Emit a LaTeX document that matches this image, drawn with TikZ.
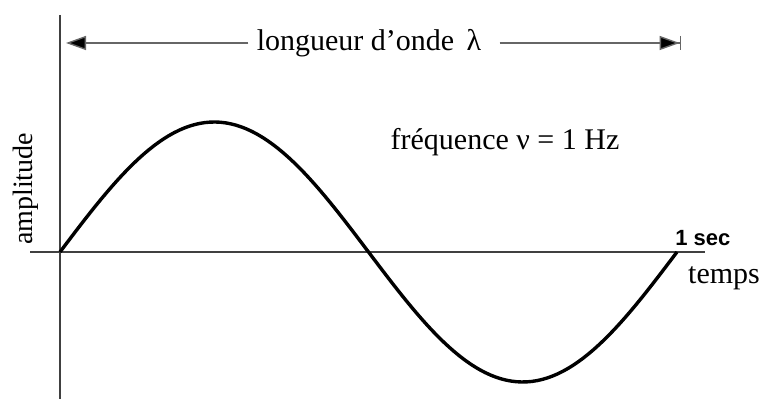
\documentclass[tikz,border=0pt]{standalone}
\usepackage{fontspec}
\setmainfont{Liberation Serif}
\setsansfont{Liberation Sans}
\usetikzlibrary{positioning, arrows.meta}

\begin{document}
\begin{tikzpicture}[
    x=0.5pt, y=-0.5pt,
    axis/.style={draw=black!75, line width=0.9pt},
    wave/.style={draw=black, line width=1.7pt},
    label/.style={font=\fontsize{15}{17}\selectfont, inner sep=1pt},
    arrow/.style={line width=0.7pt, draw=black!60, -{Triangle[length=10pt, width=7pt, fill=black]}},
    endarrow/.style={line width=0.7pt, draw=black!60, -{Triangle[length=10pt, width=7pt, fill=black]Bar[width=7pt]}}
  ]
    \useasboundingbox (0,0) rectangle (761,399);

    % Axes
    \coordinate (ytop) at (60,15);
    \coordinate (ybot) at (60,399);
    \coordinate (xleft) at (30,252);
    \coordinate (xright) at (705,252);
    \coordinate (origin) at (60,252);
    \coordinate (onesec) at (677,252);
    \draw[axis] (ytop) -- (ybot);
    \draw[axis] (xleft) -- (xright);

    % Wave
    \draw[wave, line join=round] plot[domain=0:360, samples=120] ({60+1.7139*\x},{252-130*sin(\x)});

    % Labels
    \node[label] (lambda) at (369,43) {longueur d'onde \,λ};
    \node[label] (freq) at (505,142) {fréquence ν = 1 Hz};
    \node[label, font=\fontsize{14}{16}\selectfont, rotate=90] (amp) at (26,189) {amplitude};
    \node[font=\sffamily\bfseries\fontsize{11}{12}\selectfont, inner sep=1pt, above right=2pt and -2pt of onesec] (sec) {1 sec};
    \node[label] (temps) at (724,278) {temps};

    % Wavelength arrows
    \coordinate (lefttip) at (66,43);
    \coordinate (righttip) at (681,43);
    \draw[arrow] ([xshift=-3pt]lambda.west) -- (lefttip);
    \draw[endarrow] ([xshift=8pt]lambda.east) -- (righttip);
\end{tikzpicture}
\end{document}
